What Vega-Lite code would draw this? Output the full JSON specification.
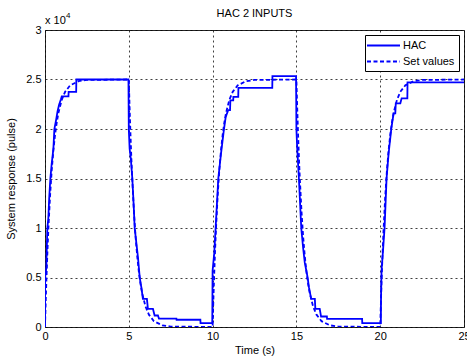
{
  "$schema": "https://vega.github.io/schema/vega-lite/v6.json",
  "width": 419,
  "height": 297,
  "autosize": {"type": "none"},
  "padding": {"left": 45, "top": 30, "right": 3, "bottom": 29},
  "title": {"text": "HAC 2 INPUTS", "fontSize": 11, "fontWeight": "normal", "font": "Liberation Sans", "color": "#000", "offset": -7},
  "config": {
    "font": "Liberation Sans",
    "view": {"stroke": "#262626", "strokeWidth": 1},
    "axis": {
      "grid": true, "gridColor": "#000", "gridDash": [2, 3], "gridOpacity": 0.75, "gridWidth": 1,
      "domain": false, "ticks": false, "labelFontSize": 11, "labelColor": "#000", "labelFlush": false, "labelOverlap": false,
      "titleFontWeight": "normal", "titleFontSize": 11, "titleColor": "#000"
    }
  },
  "datasets": {
    "lines": [
      {"series": "HAC", "t": 0, "v": 0},
      {"series": "HAC", "t": 0.01, "v": 5000},
      {"series": "HAC", "t": 0.08, "v": 6000},
      {"series": "HAC", "t": 0.1, "v": 7500},
      {"series": "HAC", "t": 0.14, "v": 10000},
      {"series": "HAC", "t": 0.2, "v": 11000},
      {"series": "HAC", "t": 0.25, "v": 13000},
      {"series": "HAC", "t": 0.32, "v": 15000},
      {"series": "HAC", "t": 0.4, "v": 16500},
      {"series": "HAC", "t": 0.5, "v": 18000},
      {"series": "HAC", "t": 0.56, "v": 20000},
      {"series": "HAC", "t": 0.65, "v": 20800},
      {"series": "HAC", "t": 0.75, "v": 21800},
      {"series": "HAC", "t": 0.85, "v": 22500},
      {"series": "HAC", "t": 0.95, "v": 23000},
      {"series": "HAC", "t": 1.0, "v": 23300},
      {"series": "HAC", "t": 1.4, "v": 23300},
      {"series": "HAC", "t": 1.41, "v": 23760},
      {"series": "HAC", "t": 1.86, "v": 23760},
      {"series": "HAC", "t": 1.87, "v": 25000},
      {"series": "HAC", "t": 4.98, "v": 25000},
      {"series": "HAC", "t": 5.0, "v": 20000},
      {"series": "HAC", "t": 5.05, "v": 18000},
      {"series": "HAC", "t": 5.12, "v": 17000},
      {"series": "HAC", "t": 5.21, "v": 15000},
      {"series": "HAC", "t": 5.3, "v": 12000},
      {"series": "HAC", "t": 5.35, "v": 10000},
      {"series": "HAC", "t": 5.45, "v": 8500},
      {"series": "HAC", "t": 5.55, "v": 7000},
      {"series": "HAC", "t": 5.65, "v": 5000},
      {"series": "HAC", "t": 5.75, "v": 4000},
      {"series": "HAC", "t": 5.84, "v": 2850},
      {"series": "HAC", "t": 6.08, "v": 2850},
      {"series": "HAC", "t": 6.14, "v": 1840},
      {"series": "HAC", "t": 6.44, "v": 1840},
      {"series": "HAC", "t": 6.54, "v": 1160},
      {"series": "HAC", "t": 6.74, "v": 1160},
      {"series": "HAC", "t": 6.8, "v": 850},
      {"series": "HAC", "t": 7.84, "v": 850},
      {"series": "HAC", "t": 7.85, "v": 730},
      {"series": "HAC", "t": 9.27, "v": 730},
      {"series": "HAC", "t": 9.28, "v": 385},
      {"series": "HAC", "t": 9.98, "v": 385},
      {"series": "HAC", "t": 10.0, "v": 5700},
      {"series": "HAC", "t": 10.1, "v": 7500},
      {"series": "HAC", "t": 10.18, "v": 10000},
      {"series": "HAC", "t": 10.26, "v": 12500},
      {"series": "HAC", "t": 10.34, "v": 15000},
      {"series": "HAC", "t": 10.5, "v": 17500},
      {"series": "HAC", "t": 10.68, "v": 20000},
      {"series": "HAC", "t": 10.78, "v": 21200},
      {"series": "HAC", "t": 10.93, "v": 21900},
      {"series": "HAC", "t": 11.04, "v": 21900},
      {"series": "HAC", "t": 11.06, "v": 22900},
      {"series": "HAC", "t": 11.23, "v": 22900},
      {"series": "HAC", "t": 11.24, "v": 23250},
      {"series": "HAC", "t": 11.53, "v": 23250},
      {"series": "HAC", "t": 11.54, "v": 24150},
      {"series": "HAC", "t": 13.56, "v": 24150},
      {"series": "HAC", "t": 13.57, "v": 25350},
      {"series": "HAC", "t": 14.98, "v": 25350},
      {"series": "HAC", "t": 15.0, "v": 20000},
      {"series": "HAC", "t": 15.05, "v": 18000},
      {"series": "HAC", "t": 15.15, "v": 15000},
      {"series": "HAC", "t": 15.22, "v": 12500},
      {"series": "HAC", "t": 15.29, "v": 10000},
      {"series": "HAC", "t": 15.4, "v": 8000},
      {"series": "HAC", "t": 15.5, "v": 6500},
      {"series": "HAC", "t": 15.67, "v": 5000},
      {"series": "HAC", "t": 15.75, "v": 4000},
      {"series": "HAC", "t": 15.88, "v": 2850},
      {"series": "HAC", "t": 16.1, "v": 2850},
      {"series": "HAC", "t": 16.13, "v": 1840},
      {"series": "HAC", "t": 16.39, "v": 1840},
      {"series": "HAC", "t": 16.47, "v": 1060},
      {"series": "HAC", "t": 16.82, "v": 1060},
      {"series": "HAC", "t": 16.83, "v": 830},
      {"series": "HAC", "t": 18.92, "v": 830},
      {"series": "HAC", "t": 18.93, "v": 385},
      {"series": "HAC", "t": 20.04, "v": 385},
      {"series": "HAC", "t": 20.05, "v": 3000},
      {"series": "HAC", "t": 20.08, "v": 5700},
      {"series": "HAC", "t": 20.18, "v": 8000},
      {"series": "HAC", "t": 20.26, "v": 10000},
      {"series": "HAC", "t": 20.38, "v": 15000},
      {"series": "HAC", "t": 20.5, "v": 17500},
      {"series": "HAC", "t": 20.66, "v": 20000},
      {"series": "HAC", "t": 20.8, "v": 21570},
      {"series": "HAC", "t": 20.9, "v": 21570},
      {"series": "HAC", "t": 20.93, "v": 22590},
      {"series": "HAC", "t": 21.2, "v": 22590},
      {"series": "HAC", "t": 21.28, "v": 23100},
      {"series": "HAC", "t": 21.62, "v": 23100},
      {"series": "HAC", "t": 21.63, "v": 24700},
      {"series": "HAC", "t": 25, "v": 24700},

      {"series": "Set values", "t": 0, "v": 0},
      {"series": "Set values", "t": 0.05, "v": 2938},
      {"series": "Set values", "t": 0.1, "v": 5530},
      {"series": "Set values", "t": 0.15, "v": 7817},
      {"series": "Set values", "t": 0.2, "v": 9837},
      {"series": "Set values", "t": 0.3, "v": 13190},
      {"series": "Set values", "t": 0.4, "v": 15803},
      {"series": "Set values", "t": 0.5, "v": 17837},
      {"series": "Set values", "t": 0.6, "v": 19421},
      {"series": "Set values", "t": 0.7, "v": 20656},
      {"series": "Set values", "t": 0.8, "v": 21617},
      {"series": "Set values", "t": 1.0, "v": 22948},
      {"series": "Set values", "t": 1.2, "v": 23755},
      {"series": "Set values", "t": 1.5, "v": 24412},
      {"series": "Set values", "t": 2.0, "v": 24832},
      {"series": "Set values", "t": 2.5, "v": 24953},
      {"series": "Set values", "t": 4.99, "v": 25000},
      {"series": "Set values", "t": 5.0, "v": 25000},
      {"series": "Set values", "t": 5.05, "v": 22062},
      {"series": "Set values", "t": 5.1, "v": 19470},
      {"series": "Set values", "t": 5.15, "v": 17183},
      {"series": "Set values", "t": 5.2, "v": 15163},
      {"series": "Set values", "t": 5.3, "v": 11810},
      {"series": "Set values", "t": 5.4, "v": 9197},
      {"series": "Set values", "t": 5.5, "v": 7163},
      {"series": "Set values", "t": 5.6, "v": 5579},
      {"series": "Set values", "t": 5.7, "v": 4344},
      {"series": "Set values", "t": 5.8, "v": 3383},
      {"series": "Set values", "t": 6.0, "v": 2052},
      {"series": "Set values", "t": 6.2, "v": 1245},
      {"series": "Set values", "t": 6.5, "v": 588},
      {"series": "Set values", "t": 7.0, "v": 168},
      {"series": "Set values", "t": 7.5, "v": 47},
      {"series": "Set values", "t": 9.99, "v": 0},
      {"series": "Set values", "t": 10.0, "v": 0},
      {"series": "Set values", "t": 10.05, "v": 2938},
      {"series": "Set values", "t": 10.1, "v": 5530},
      {"series": "Set values", "t": 10.15, "v": 7817},
      {"series": "Set values", "t": 10.2, "v": 9837},
      {"series": "Set values", "t": 10.3, "v": 13190},
      {"series": "Set values", "t": 10.4, "v": 15803},
      {"series": "Set values", "t": 10.5, "v": 17837},
      {"series": "Set values", "t": 10.6, "v": 19421},
      {"series": "Set values", "t": 10.7, "v": 20656},
      {"series": "Set values", "t": 10.8, "v": 21617},
      {"series": "Set values", "t": 11.0, "v": 22948},
      {"series": "Set values", "t": 11.2, "v": 23755},
      {"series": "Set values", "t": 11.5, "v": 24412},
      {"series": "Set values", "t": 12.0, "v": 24832},
      {"series": "Set values", "t": 12.5, "v": 24953},
      {"series": "Set values", "t": 14.99, "v": 25000},
      {"series": "Set values", "t": 15.0, "v": 25000},
      {"series": "Set values", "t": 15.05, "v": 22062},
      {"series": "Set values", "t": 15.1, "v": 19470},
      {"series": "Set values", "t": 15.15, "v": 17183},
      {"series": "Set values", "t": 15.2, "v": 15163},
      {"series": "Set values", "t": 15.3, "v": 11810},
      {"series": "Set values", "t": 15.4, "v": 9197},
      {"series": "Set values", "t": 15.5, "v": 7163},
      {"series": "Set values", "t": 15.6, "v": 5579},
      {"series": "Set values", "t": 15.7, "v": 4344},
      {"series": "Set values", "t": 15.8, "v": 3383},
      {"series": "Set values", "t": 16.0, "v": 2052},
      {"series": "Set values", "t": 16.2, "v": 1245},
      {"series": "Set values", "t": 16.5, "v": 588},
      {"series": "Set values", "t": 17.0, "v": 168},
      {"series": "Set values", "t": 17.5, "v": 47},
      {"series": "Set values", "t": 19.99, "v": 0},
      {"series": "Set values", "t": 20.0, "v": 0},
      {"series": "Set values", "t": 20.05, "v": 2938},
      {"series": "Set values", "t": 20.1, "v": 5530},
      {"series": "Set values", "t": 20.15, "v": 7817},
      {"series": "Set values", "t": 20.2, "v": 9837},
      {"series": "Set values", "t": 20.3, "v": 13190},
      {"series": "Set values", "t": 20.4, "v": 15803},
      {"series": "Set values", "t": 20.5, "v": 17837},
      {"series": "Set values", "t": 20.6, "v": 19421},
      {"series": "Set values", "t": 20.7, "v": 20656},
      {"series": "Set values", "t": 20.8, "v": 21617},
      {"series": "Set values", "t": 21.0, "v": 22948},
      {"series": "Set values", "t": 21.2, "v": 23755},
      {"series": "Set values", "t": 21.5, "v": 24412},
      {"series": "Set values", "t": 22.0, "v": 24832},
      {"series": "Set values", "t": 22.5, "v": 24953},
      {"series": "Set values", "t": 25, "v": 25000}
    ],
    "exponent": [{"base": "x 10", "power": "4", "t": 0, "v": 30000}]
  },
  "layer": [
    {
      "data": {"name": "lines"},
      "mark": {"type": "line", "strokeWidth": 1.8, "clip": true},
      "encoding": {
        "x": {"field": "t", "type": "quantitative", "scale": {"domain": [0, 25], "nice": false, "zero": false},
              "axis": {"values": [0, 5, 10, 15, 20, 25], "title": "Time (s)", "labelPadding": 3, "titlePadding": 3}},
        "y": {"field": "v", "type": "quantitative", "scale": {"domain": [0, 30000], "nice": false},
              "axis": {"values": [0, 5000, 10000, 15000, 20000, 25000, 30000], "labelExpr": "datum.value / 10000",
                       "title": "System response (pulse)", "labelPadding": 4, "titlePadding": 9}},
        "color": {"field": "series", "type": "nominal", "scale": {"range": ["#0000ff", "#0000ff"]},
                  "legend": {"orient": "top-right", "offset": 5, "title": null, "fillColor": "white", "strokeColor": "#000",
                             "padding": 4, "symbolType": "M-3,0H3", "symbolSize": 121, "symbolStrokeWidth": 1.8,
                             "labelFontSize": 11, "labelColor": "#000", "rowPadding": 4, "symbolOffset": 8, "labelOffset": 13}},
        "strokeDash": {"field": "series", "type": "nominal", "scale": {"range": [[1, 0], [4, 2.5]]}}
      }
    },
    {
      "data": {"name": "exponent"},
      "mark": {"type": "text", "align": "left", "baseline": "alphabetic", "dy": -6, "fontSize": 11, "color": "#000"},
      "encoding": {
        "x": {"field": "t", "type": "quantitative"},
        "y": {"field": "v", "type": "quantitative"},
        "text": {"field": "base"}
      }
    },
    {
      "data": {"name": "exponent"},
      "mark": {"type": "text", "align": "left", "baseline": "alphabetic", "dx": 21, "dy": -12, "fontSize": 8, "color": "#000"},
      "encoding": {
        "x": {"field": "t", "type": "quantitative"},
        "y": {"field": "v", "type": "quantitative"},
        "text": {"field": "power"}
      }
    }
  ]
}
